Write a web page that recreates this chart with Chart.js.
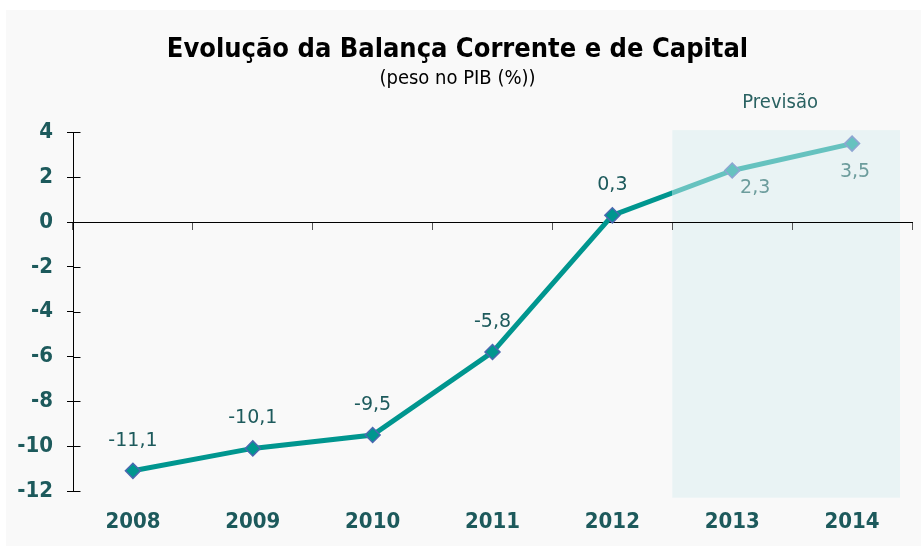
<!DOCTYPE html>
<html>
<head>
<meta charset="utf-8">
<script src="https://cdn.jsdelivr.net/npm/chart.js@4.4.1/dist/chart.umd.min.js"></script>
<style>
html,body{margin:0;padding:0;background:#ffffff;}
#wrap{width:921px;height:546px;position:relative;}
</style>
</head>
<body>
<div id="wrap"><canvas id="balChart" width="921" height="546"></canvas></div>
<script>
// chart data
const years = ["2008","2009","2010","2011","2012","2013","2014"];
const saldo = [-11.1, -10.1, -9.5, -5.8, 0.3, 2.3, 3.5];
const firstForecast = 5; // index of 2013
const yTicks = [4, 2, 0, -2, -4, -6, -8, -10, -12];

const DARK = "#00968f";
const LIGHT = "#66c2bf";
const TXT = "#1d5a5c";
const COND = "'DejaVu Sans Condensed', 'DejaVu Sans', sans-serif";

function fmt(v){ return String(v).replace(".", ","); }

// background panel + forecast shade
const bgPlugin = {
  id: "bgPlugin",
  beforeDraw(chart){
    const c = chart.ctx, x = chart.scales.x, y = chart.scales.y;
    c.save();
    c.fillStyle = "#f9f9f9";
    c.fillRect(6, 10, chart.width - 6, chart.height - 10);
    const step = x.getPixelForValue(1) - x.getPixelForValue(0);
    const left = (x.getPixelForValue(firstForecast - 1) + x.getPixelForValue(firstForecast)) / 2;
    const right = x.getPixelForValue(years.length - 1) + step * 0.4;
    const top = y.getPixelForValue(4.1);
    const bot = y.getPixelForValue(-12.3);
    c.fillStyle = "#e9f3f4";
    c.fillRect(left, top, right - left, bot - top);
    c.fillStyle = "#2a6262";
    c.font = "20px " + COND;
    c.textAlign = "center";
    c.textBaseline = "middle";
    c.fillText("Previsão", (left + right) / 2 - 6, top - 27);
    c.restore();
  },
  afterDraw(chart){
    // inner half of y ticks and data labels
    const c = chart.ctx, y = chart.scales.y;
    c.save();
    c.strokeStyle = "#000";
    c.lineWidth = 1;
    const ax = Math.round(y.right) + 0.5;
    yTicks.forEach(v => {
      const py = Math.round(y.getPixelForValue(v)) + 0.5;
      c.beginPath(); c.moveTo(ax, py); c.lineTo(ax + 7, py); c.stroke();
    });
    const meta = chart.getDatasetMeta(0);
    c.font = "19px 'DejaVu Sans', sans-serif";
    c.textAlign = "center";
    c.textBaseline = "middle";
    meta.data.forEach((pt, i) => {
      if (i < firstForecast) {
        c.fillStyle = TXT;
        c.fillText(fmt(saldo[i]), pt.x, pt.y - 30);
      } else if (i === firstForecast) {
        c.fillStyle = "#6c9c9c";
        c.fillText(fmt(saldo[i]), pt.x + 23, pt.y + 18);
      } else {
        c.fillStyle = "#6c9c9c";
        c.fillText(fmt(saldo[i]), pt.x + 3, pt.y + 28);
      }
    });
    c.restore();
  }
};

function segColor(ctx){
  const i = ctx.p1DataIndex;
  if (i < firstForecast) return DARK;
  if (i > firstForecast) return LIGHT;
  const g = ctx.chart.ctx.createLinearGradient(ctx.p0.x, 0, ctx.p1.x, 0);
  g.addColorStop(0, DARK);
  g.addColorStop(0.5, DARK);
  g.addColorStop(0.5, LIGHT);
  g.addColorStop(1, LIGHT);
  return g;
}

const ctx = document.getElementById("balChart").getContext("2d");

new Chart(ctx, {
  type: "line",
  data: {
    labels: years,
    datasets: [{
      data: saldo,
      borderWidth: 5,
      borderColor: DARK,
      segment: { borderColor: segColor },
      tension: 0,
      pointStyle: "rectRot",
      pointRadius: 7.5,
      pointBorderWidth: 1.5,
      pointBackgroundColor: saldo.map((v, i) => i < firstForecast ? DARK : LIGHT),
      pointBorderColor: saldo.map((v, i) => i < firstForecast ? "#4a68b0" : "#8ea6d2")
    }]
  },
  plugins: [bgPlugin],
  options: {
    responsive: false,
    animation: false,
    layout: { padding: { left: 0, right: 6, top: 0, bottom: 0 } },
    plugins: {
      legend: { display: false },
      tooltip: { enabled: false },
      title: {
        display: true,
        text: "Evolução da Balança Corrente e de Capital",
        color: "#000",
        font: { family: COND, size: 27, weight: "bold", lineHeight: 1.2 },
        padding: { top: 34, bottom: 0 }
      },
      subtitle: {
        display: true,
        text: "(peso no PIB (%))",
        color: "#000",
        font: { family: COND, size: 20, lineHeight: 1.2 },
        padding: { top: 0, bottom: 42 }
      }
    },
    scales: {
      x: {
        type: "category",
        offset: true,
        border: { display: false },
        grid: { display: false },
        ticks: {
          color: TXT,
          padding: 10,
          font: { family: COND, size: 22, weight: "bold" }
        },
        afterFit(s){ s.height = 55; }
      },
      x2: {
        type: "category",
        labels: years,
        offset: true,
        position: { y: 0 },
        border: { display: true, color: "#000", width: 1 },
        grid: { display: true, drawOnChartArea: false, drawTicks: true, tickLength: 7, color: "#555", offset: true },
        ticks: { display: false }
      },
      y: {
        min: -12,
        max: 4,
        afterBuildTicks(s){ s.ticks = yTicks.map(v => ({ value: v })); },
        border: { display: true, color: "#000", width: 1 },
        grid: { display: true, drawOnChartArea: false, drawTicks: true, tickLength: 6, color: "#000" },
        ticks: {
          color: TXT,
          padding: 14,
          font: { family: COND, size: 22, weight: "bold" },
          callback: v => String(v)
        },
        afterFit(s){ s.width = 73; }
      }
    }
  }
});
</script>
</body>
</html>
